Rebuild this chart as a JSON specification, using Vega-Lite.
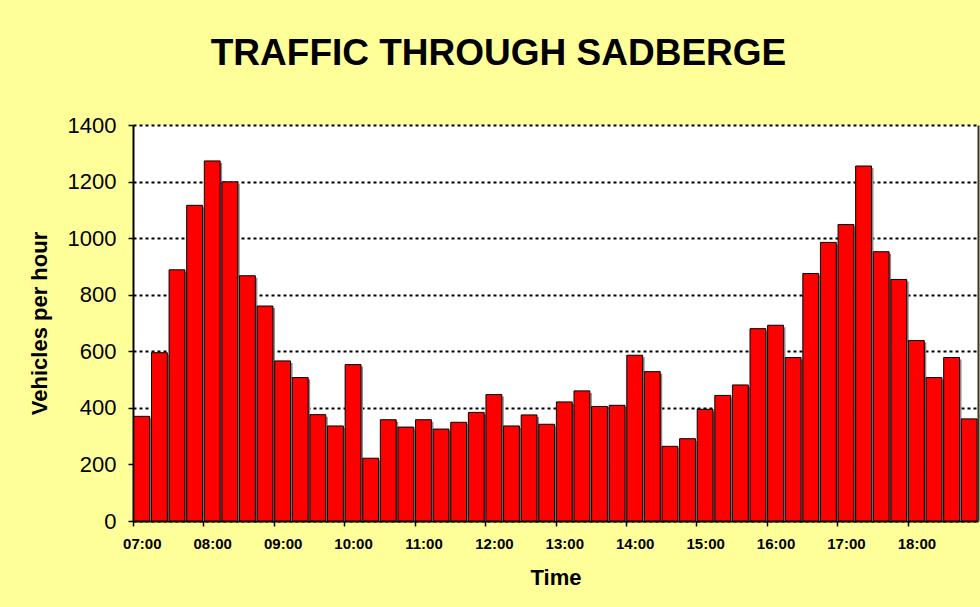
{
  "$schema": "https://vega.github.io/schema/vega-lite/v6.json",
  "width": 845,
  "height": 396,
  "autosize": {"type": "none"},
  "padding": {"left": 133, "top": 125, "right": 2, "bottom": 86},
  "background": "#FFFF99",
  "title": {
    "text": "TRAFFIC THROUGH SADBERGE",
    "fontSize": 37,
    "fontWeight": "bold",
    "font": "Liberation Sans",
    "color": "black",
    "anchor": "middle",
    "frame": "group",
    "dx": -57,
    "baseline": "alphabetic",
    "offset": 12
  },
  "data": {
    "values": [
      {"time": "07:00", "vph": 370}, {"time": "07:15", "vph": 595}, {"time": "07:30", "vph": 888}, {"time": "07:45", "vph": 1116},
      {"time": "08:00", "vph": 1273}, {"time": "08:15", "vph": 1199}, {"time": "08:30", "vph": 867}, {"time": "08:45", "vph": 760},
      {"time": "09:00", "vph": 566}, {"time": "09:15", "vph": 507}, {"time": "09:30", "vph": 376}, {"time": "09:45", "vph": 336},
      {"time": "10:00", "vph": 553}, {"time": "10:15", "vph": 222}, {"time": "10:30", "vph": 358}, {"time": "10:45", "vph": 332},
      {"time": "11:00", "vph": 358}, {"time": "11:15", "vph": 325}, {"time": "11:30", "vph": 349}, {"time": "11:45", "vph": 384},
      {"time": "12:00", "vph": 447}, {"time": "12:15", "vph": 336}, {"time": "12:30", "vph": 375}, {"time": "12:45", "vph": 342},
      {"time": "13:00", "vph": 421}, {"time": "13:15", "vph": 460}, {"time": "13:30", "vph": 405}, {"time": "13:45", "vph": 409},
      {"time": "14:00", "vph": 586}, {"time": "14:15", "vph": 528}, {"time": "14:30", "vph": 264}, {"time": "14:45", "vph": 291},
      {"time": "15:00", "vph": 395}, {"time": "15:15", "vph": 444}, {"time": "15:30", "vph": 481}, {"time": "15:45", "vph": 680},
      {"time": "16:00", "vph": 692}, {"time": "16:15", "vph": 578}, {"time": "16:30", "vph": 875}, {"time": "16:45", "vph": 985},
      {"time": "17:00", "vph": 1048}, {"time": "17:15", "vph": 1255}, {"time": "17:30", "vph": 952}, {"time": "17:45", "vph": 854},
      {"time": "18:00", "vph": 638}, {"time": "18:15", "vph": 507}, {"time": "18:30", "vph": 578}, {"time": "18:45", "vph": 361}
    ]
  },
  "encoding": {
    "x": {
      "field": "time",
      "type": "ordinal",
      "sort": null,
      "scale": {"paddingInner": 0, "paddingOuter": 0},
      "axis": {
        "values": ["07:00", "08:00", "09:00", "10:00", "11:00", "12:00", "13:00", "14:00", "15:00", "16:00", "17:00", "18:00"],
        "labelAngle": 0,
        "tickOffset": -8.8,
        "labelOffset": 8.8,
        "labelFont": "Liberation Sans",
        "labelFontSize": 15,
        "labelFontWeight": "bold",
        "labelColor": "black",
        "labelPadding": 10,
        "tickColor": "black",
        "tickSize": 5,
        "tickWidth": 1.5,
        "domainColor": "black",
        "domainWidth": 2,
        "grid": false,
        "title": "Time",
        "titleFont": "Liberation Sans",
        "titleFontSize": 22,
        "titleFontWeight": "bold",
        "titleColor": "black",
        "titlePadding": 16
      }
    }
  },
  "layer": [
    {
      "mark": {"type": "bar", "color": "#8c8c8c", "xOffset": 2, "yOffset": 2, "width": {"band": 0.9}, "clip": true},
      "encoding": {
        "y": {
          "field": "vph",
          "type": "quantitative",
          "scale": {"domain": [0, 1400]},
          "axis": {
            "orient": "right",
            "labels": false,
            "ticks": false,
            "grid": false,
            "title": null,
            "domainColor": "#333333",
            "domainWidth": 2
          }
        }
      }
    },
    {
      "mark": {"type": "bar", "color": "#FF0000", "stroke": "black", "strokeWidth": 1, "width": {"band": 0.9}},
      "encoding": {
        "y": {
          "field": "vph",
          "type": "quantitative",
          "scale": {"domain": [0, 1400]},
          "axis": {
            "orient": "left",
            "values": [0, 200, 400, 600, 800, 1000, 1200, 1400],
            "format": "d",
            "labelFont": "Liberation Sans",
            "labelFontSize": 22,
            "labelColor": "black",
            "labelPadding": 12,
            "tickColor": "black",
            "tickSize": 5,
            "tickWidth": 1.5,
            "domainColor": "black",
            "domainWidth": 2,
            "grid": true,
            "gridColor": "black",
            "gridWidth": 2,
            "gridDash": [3, 3],
            "gridOpacity": 1,
            "title": "Vehicles per hour",
            "titleFont": "Liberation Sans",
            "titleFontSize": 22,
            "titleFontWeight": "bold",
            "titleColor": "black",
            "titlePadding": 16
          }
        }
      }
    }
  ],
  "resolve": {"axis": {"y": "independent"}},
  "config": {
    "view": {"fill": "white", "stroke": null}
  }
}
